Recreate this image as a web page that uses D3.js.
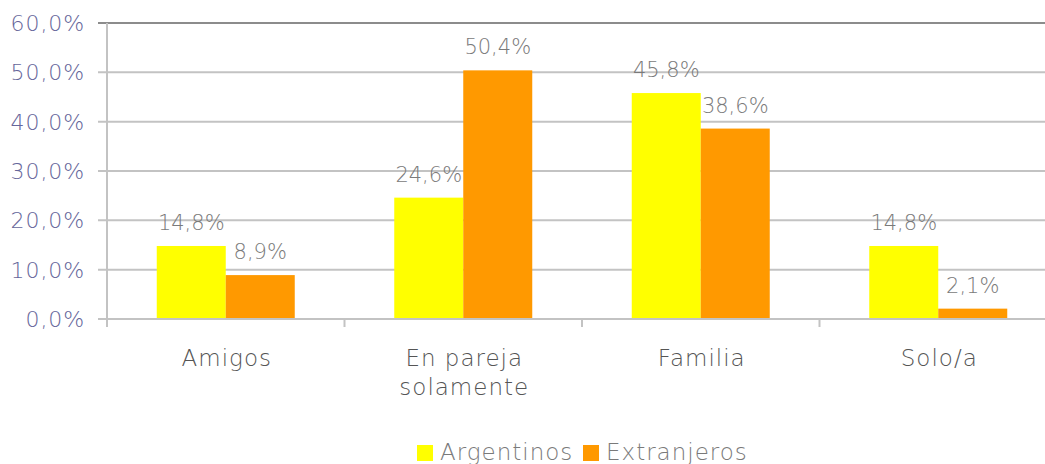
<!DOCTYPE html>
<html><head><meta charset="utf-8">
<script src="https://cdn.jsdelivr.net/npm/d3@7"></script>
<style>body{margin:0;background:#fff}svg{display:block}text{font-family:"DejaVu Sans",sans-serif;font-weight:200}</style>
</head><body>
<svg id="c" width="1045" height="464"></svg>
<script>
const categories = [["Amigos"], ["En pareja","solamente"], ["Familia"], ["Solo/a"]];
const seriesNames = ["Argentinos", "Extranjeros"];
const argentinos = [14.8, 24.6, 45.8, 14.8];
const extranjeros = [8.9, 50.4, 38.6, 2.1];
const yTicks = [0, 10, 20, 30, 40, 50, 60];
const colors = ["#ffff00", "#ff9900"];

(function(){
const svg = d3.select("#c");
const pL = 107, pR = 1057, pT = 23, pB = 319;
const x = d3.scaleBand().domain(d3.range(categories.length)).range([pL, pR]);
const x1 = d3.scaleBand().domain([0,1]).range([0, 138]);
const y = d3.scaleLinear().domain([0, 60]).range([pB, pT]);
const fmt = v => v.toFixed(1).replace(".", ",") + "%";

svg.append("g").selectAll("line").data(yTicks).join("line")
  .attr("x1", pL - 9).attr("x2", pR)
  .attr("y1", d => y(d)).attr("y2", d => y(d))
  .attr("stroke", d => d === 60 ? "#8c8c8c" : "#c3c3c3").attr("stroke-width", 2);
svg.append("line").attr("x1", pL).attr("x2", pL).attr("y1", pT).attr("y2", pB + 8)
  .attr("stroke", "#c3c3c3").attr("stroke-width", 2);
svg.append("g").selectAll("line").data(d3.range(categories.length + 1)).join("line")
  .attr("x1", d => pL + d * x.bandwidth()).attr("x2", d => pL + d * x.bandwidth())
  .attr("y1", pB).attr("y2", pB + 8)
  .attr("stroke", "#c3c3c3").attr("stroke-width", 2);
svg.append("g").selectAll("text").data(yTicks).join("text")
  .attr("x", 85).attr("y", d => y(d) + 8).attr("text-anchor", "end")
  .attr("font-size", 22).attr("letter-spacing", 0.9).attr("fill", "#66669a").text(d => fmt(d));

const series = [argentinos, extranjeros];
const off = (x.bandwidth() - 138) / 2;
series.forEach((vals, s) => {
  const g = svg.append("g");
  g.selectAll("rect").data(vals).join("rect")
    .attr("x", (d, i) => x(i) + off + x1(s)).attr("width", x1.bandwidth())
    .attr("y", d => y(d)).attr("height", d => pB - y(d)).attr("fill", colors[s]);
  g.selectAll("text").data(vals).join("text")
    .attr("x", (d, i) => x(i) + off + x1(s) + x1.bandwidth() / 2)
    .attr("y", d => y(d) - 16).attr("text-anchor", "middle")
    .attr("font-size", 21).attr("fill", "#7a7a7a").text(d => fmt(d));
});
svg.append("line").attr("x1", pL).attr("x2", pR).attr("y1", pB).attr("y2", pB)
  .attr("stroke", "#c3c3c3").attr("stroke-width", 2);

categories.forEach((lines, i) => {
  const t = svg.append("text").attr("text-anchor", "middle").attr("font-size", 23)
    .attr("letter-spacing", 1).attr("fill", "#555555");
  lines.forEach((l, k) => t.append("tspan").attr("x", x(i) + x.bandwidth() / 2 + 1).attr("y", 366 + k * 29).text(l));
});

const legX = [417, 583];
seriesNames.forEach((n, s) => {
  svg.append("rect").attr("x", legX[s]).attr("y", 445).attr("width", 16).attr("height", 16).attr("fill", colors[s]);
  svg.append("text").attr("x", legX[s] + 23).attr("y", 460).attr("font-size", 23)
    .attr("letter-spacing", 1).attr("fill", "#7a7a7a").text(n);
});
})();
</script>
</body></html>
